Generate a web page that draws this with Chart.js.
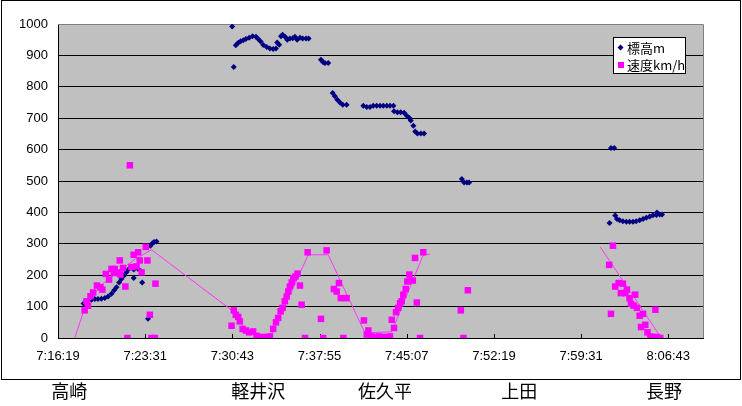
<!DOCTYPE html>
<html lang="ja">
<head>
<meta charset="UTF-8">
<title>標高と速度</title>
<script src="https://cdn.jsdelivr.net/npm/chart.js"></script>
<style>
  html, body { margin: 0; padding: 0; background: #fff; }
  #wrap { position: relative; width: 742px; height: 406px; }
</style>
</head>
<body>
<div id="wrap"><canvas id="chart" width="742" height="406"></canvas></div>
<script>
// x axis (time of day)
const xMin = '7:16:19';
const xMax = '8:09:35';
const xTicks = ['7:16:19', '7:23:31', '7:30:43', '7:37:55', '7:45:07', '7:52:19', '7:59:31', '8:06:43'];

// stations written under the chart
const stations = ['高崎', '軽井沢', '佐久平', '上田', '長野'];
const stationTimes = ['7:17:15', '7:32:51', '7:43:19', '7:54:25', '8:06:22'];

// 標高m
const altTimes = [
  '7:18:26', '7:18:48', '7:19:05', '7:19:21', '7:19:37', '7:19:54', '7:20:11', '7:20:27', '7:20:44', '7:20:57',
  '7:21:09', '7:21:22', '7:21:33', '7:21:45', '7:21:58', '7:22:10', '7:22:23', '7:22:34', '7:22:34', '7:22:56',
  '7:23:13', '7:23:16', '7:23:45', '7:23:57', '7:24:07', '7:24:15', '7:24:27',
  '7:30:42', '7:30:50', '7:31:00', '7:31:12', '7:31:24', '7:31:37', '7:31:50', '7:32:06', '7:32:23', '7:32:40',
  '7:32:51', '7:33:03', '7:33:16', '7:33:33', '7:33:49', '7:34:05', '7:34:19', '7:34:25', '7:34:35', '7:34:44',
  '7:34:52', '7:35:04', '7:35:15', '7:35:28', '7:35:42', '7:35:53', '7:36:04', '7:36:18', '7:36:31', '7:36:48',
  '7:37:01', '7:38:02', '7:38:13', '7:38:22', '7:38:38', '7:39:00', '7:39:11', '7:39:23', '7:39:36', '7:39:50',
  '7:40:09', '7:41:32', '7:41:49', '7:42:05', '7:42:21', '7:42:38', '7:42:55', '7:43:11', '7:43:28', '7:43:44',
  '7:44:01', '7:44:04', '7:44:21', '7:44:37', '7:44:54', '7:45:07', '7:45:20', '7:45:27', '7:45:40', '7:45:49',
  '7:46:00', '7:46:17', '7:46:33',
  '7:49:40', '7:49:51', '7:50:05', '7:50:16', '8:01:59', '8:02:15',
  '8:01:52', '8:02:20', '8:02:29', '8:02:42', '8:02:58', '8:03:15', '8:03:31', '8:03:48', '8:04:04', '8:04:21',
  '8:04:38', '8:04:54', '8:05:11', '8:05:27', '8:05:44', '8:05:47', '8:06:00', '8:06:12'
];
const altValues = [
  110, 120, 122, 124, 124, 125, 127, 132, 141, 152,
  162, 177, 188, 198, 209, 220, 226, 218, 191, 220,
  212, 177, 61, 294, 302, 306, 307,
  992, 863, 932, 940, 945, 948, 952, 956, 961, 959,
  952, 944, 933, 927, 922, 920, 922, 941, 934, 961,
  966, 959, 950, 954, 955, 959, 950, 956, 954, 954,
  954, 886, 878, 876, 876, 780, 770, 759, 750, 743,
  743, 740, 736, 736, 740, 740, 740, 740, 740, 740,
  740, 722, 719, 719, 717, 708, 701, 693, 676, 658,
  651, 651, 651,
  506, 495, 495, 495, 605, 605,
  366, 390, 379, 375, 372, 370, 370, 370, 372, 375,
  379, 383, 387, 391, 392, 400, 393, 393
];

// 速度km/h
const speedTimes = [
  '7:18:31', '7:18:40', '7:18:48', '7:19:00', '7:19:13', '7:19:32', '7:19:49', '7:19:59', '7:20:16', '7:20:32',
  '7:20:44', '7:20:55', '7:21:00', '7:21:12', '7:21:25', '7:21:28', '7:21:41', '7:21:53', '7:22:03', '7:22:15',
  '7:22:23', '7:22:34', '7:22:48', '7:22:56', '7:23:04', '7:23:13', '7:23:34', '7:23:42', '7:23:54', '7:24:02',
  '7:24:19', '7:24:22',
  '7:30:39', '7:30:50', '7:31:00', '7:31:12', '7:31:20', '7:31:34', '7:31:50', '7:32:06', '7:32:26', '7:32:43',
  '7:32:59', '7:33:16', '7:33:33', '7:33:49', '7:34:05', '7:34:19', '7:34:30', '7:34:42', '7:34:52', '7:35:03',
  '7:35:12', '7:35:20', '7:35:28', '7:35:37', '7:35:45', '7:35:56', '7:36:06', '7:36:18', '7:36:26', '7:36:43',
  '7:36:56', '7:38:02', '7:38:13', '7:38:30', '7:39:06', '7:39:20', '7:39:31', '7:39:40', '7:39:53', '7:40:09',
  '7:41:35', '7:41:49', '7:41:57', '7:42:13', '7:42:30', '7:42:51', '7:43:11', '7:43:28', '7:43:44', '7:43:53',
  '7:44:04', '7:44:14', '7:44:25', '7:44:34', '7:44:42', '7:44:50', '7:45:02', '7:45:10', '7:45:20', '7:45:37',
  '7:45:48', '7:45:57', '7:46:13', '7:46:29',
  '7:49:35', '7:49:48', '7:50:10',
  '8:01:50', '8:01:59', '8:02:09', '8:02:20', '8:02:37', '8:02:48', '8:02:58', '8:03:10', '8:03:18', '8:03:31',
  '8:03:38', '8:03:51', '8:03:59', '8:04:08', '8:04:21', '8:04:28', '8:04:38', '8:04:49', '8:05:00', '8:05:14',
  '8:05:30', '8:05:39', '8:05:47', '8:06:03'
];
const speedValues = [
  88, 117, 103, 133, 145, 167, 162, 154, 204, 186,
  220, 207, 220, 209, 247, 202, 223, 164, 0, 550,
  226, 265, 228, 273, 247, 209, 290, 247, 74, 0,
  0, 173,
  39, 88, 74, 67, 53, 29, 24, 18, 21, 7,
  3, 3, 3, 5, 29, 50, 64, 85, 96, 117,
  132, 148, 164, 177, 191, 196, 205, 167, 106, 0,
  273, 61, 0, 279, 156, 148, 175, 127, 0, 127,
  56, 11, 24, 5, 3, 5, 3, 3, 5, 58,
  32, 82, 96, 111, 117, 138, 156, 180, 202, 183,
  255, 113, 0, 273,
  88, 0, 152,
  233, 77, 294, 164, 175, 143, 173, 143, 154, 127,
  109, 103, 138, 96, 71, 35, 77, 42, 18, 5,
  3, 90, 3, 0
];

// thin magenta speed line (null = break)
const speedLineTimes = [
  '7:17:42', '7:18:31', '7:19:46', '7:21:25', '7:22:39', '7:24:02', '7:30:47', '7:31:20', '7:31:50', '7:32:40',
  '7:33:49', '7:34:05', '7:36:59', '7:38:38', '7:41:40', '7:43:53', '7:46:29', '7:47:03', '7:54:00', '8:01:06',
  '8:06:20'
];
const speedLineValues = [
  0, 95, 165, 215, 250, 281, 85, 55, 25, 5,
  3, 20, 265, 265, 16, 20, 265, 267, null, 290,
  -11
];

function toSec(s) {
  const p = s.split(':').map(Number);
  return p[0] * 3600 + p[1] * 60 + p[2];
}
function toClock(v) {
  const h = Math.floor(v / 3600);
  const m = Math.floor((v % 3600) / 60);
  const s = Math.round(v % 60);
  return h + ':' + String(m).padStart(2, '0') + ':' + String(s).padStart(2, '0');
}
function pairs(times, values) {
  return times.map((t, i) => ({ x: toSec(t), y: values[i] }));
}

const tickFont = { family: '"Liberation Sans", Arial, sans-serif', size: 13 };
const jpFont = '"Noto Sans CJK JP", sans-serif';

// grey plot area, grey top/right border, inside tick marks on x
const plotArea = {
  id: 'plotArea',
  beforeDraw(chart) {
    const { ctx, chartArea: a } = chart;
    ctx.save();
    ctx.fillStyle = '#fff';
    ctx.fillRect(0, 0, chart.width, chart.height);
    ctx.fillStyle = '#c0c0c0';
    ctx.fillRect(a.left, a.top, a.right - a.left, a.bottom - a.top);
    ctx.restore();
  },
  beforeDatasetsDraw(chart) {
    const { ctx, chartArea: a } = chart;
    const xs = chart.scales.x;
    ctx.save();
    ctx.strokeStyle = '#808080';
    ctx.lineWidth = 1;
    ctx.beginPath();
    ctx.moveTo(a.left, a.top + 0.5);
    ctx.lineTo(a.right + 0.5, a.top + 0.5);
    ctx.lineTo(a.right + 0.5, a.bottom);
    ctx.stroke();
    ctx.strokeStyle = '#000';
    ctx.beginPath();
    xs.ticks.forEach(t => {
      const px = Math.round(xs.getPixelForValue(t.value)) + 0.5;
      ctx.moveTo(px, a.bottom);
      ctx.lineTo(px, a.bottom - 4);
    });
    ctx.stroke();
    ctx.restore();
  },
  afterDraw(chart) {
    const { ctx } = chart;
    const xs = chart.scales.x;
    ctx.save();
    // outer frame
    ctx.strokeStyle = '#000';
    ctx.lineWidth = 1;
    ctx.strokeRect(1.5, 0.5, 739, 379);
    // legend box
    const lx = 613.5, ly = 37.5, lw = 72, lh = 36;
    ctx.fillStyle = '#fff';
    ctx.fillRect(lx, ly, lw, lh);
    ctx.strokeRect(lx, ly, lw, lh);
    const alt = chart.data.datasets[2];
    const spd = chart.data.datasets[0];
    // diamond
    ctx.fillStyle = alt.pointBackgroundColor;
    ctx.beginPath();
    ctx.moveTo(620.5, 44.5);
    ctx.lineTo(623.5, 47.5);
    ctx.lineTo(620.5, 50.5);
    ctx.lineTo(617.5, 47.5);
    ctx.closePath();
    ctx.fill();
    // square
    ctx.fillStyle = spd.pointBackgroundColor;
    ctx.fillRect(618, 62, 6, 6);
    ctx.fillStyle = '#000';
    ctx.font = '13px ' + jpFont;
    ctx.textBaseline = 'middle';
    ctx.textAlign = 'left';
    ctx.fillText(alt.label, 627, 48);
    ctx.fillText(spd.label, 627, 65);
    // station names
    ctx.font = '18px ' + jpFont;
    ctx.textAlign = 'center';
    stations.forEach((name, i) => {
      ctx.fillText(name, xs.getPixelForValue(toSec(stationTimes[i])), 391);
    });
    ctx.restore();
  }
};

new Chart(document.getElementById('chart'), {
  type: 'scatter',
  data: {
    datasets: [
      {
        label: '速度km/h',
        data: pairs(speedTimes, speedValues),
        pointStyle: 'rect',
        pointRadius: 4.6,
        pointHoverRadius: 4.6,
        pointBackgroundColor: '#ff00ff',
        pointBorderWidth: 0,
        showLine: false,
        order: 0
      },
      {
        label: 'line',
        data: pairs(speedLineTimes, speedLineValues),
        showLine: true,
        spanGaps: false,
        borderColor: '#ff33ff',
        borderWidth: 1,
        pointRadius: 0,
        order: 1
      },
      {
        label: '標高m',
        data: pairs(altTimes, altValues),
        pointStyle: 'rectRot',
        pointRadius: 3,
        pointHoverRadius: 3,
        pointBackgroundColor: '#000080',
        pointBorderWidth: 0,
        showLine: false,
        order: 2
      }
    ]
  },
  options: {
    responsive: false,
    animation: false,
    layout: { padding: { left: 0, top: 24, right: 39, bottom: 38 } },
    plugins: { legend: { display: false }, tooltip: { enabled: false } },
    scales: {
      x: {
        type: 'linear',
        min: toSec(xMin),
        max: toSec(xMax),
        afterBuildTicks: s => { s.ticks = xTicks.map(t => ({ value: toSec(t) })); },
        afterFit: s => { s.height = 30; },
        ticks: {
          callback: v => toClock(v),
          font: tickFont,
          color: '#000',
          maxRotation: 0,
          autoSkip: false,
          padding: 11
        },
        grid: { drawOnChartArea: false, drawTicks: false },
        border: { color: '#000', width: 1 }
      },
      y: {
        min: 0,
        max: 1000,
        afterFit: s => { s.width = 58; },
        ticks: { stepSize: 100, font: tickFont, color: '#000', padding: 10, callback: v => String(v) },
        grid: {
          drawTicks: false,
          color: c => (c.tick && c.tick.value === 1000 ? '#808080' : '#000'),
          lineWidth: 1
        },
        border: { color: '#000', width: 1 }
      }
    }
  },
  plugins: [plotArea]
});
</script>
</body>
</html>
